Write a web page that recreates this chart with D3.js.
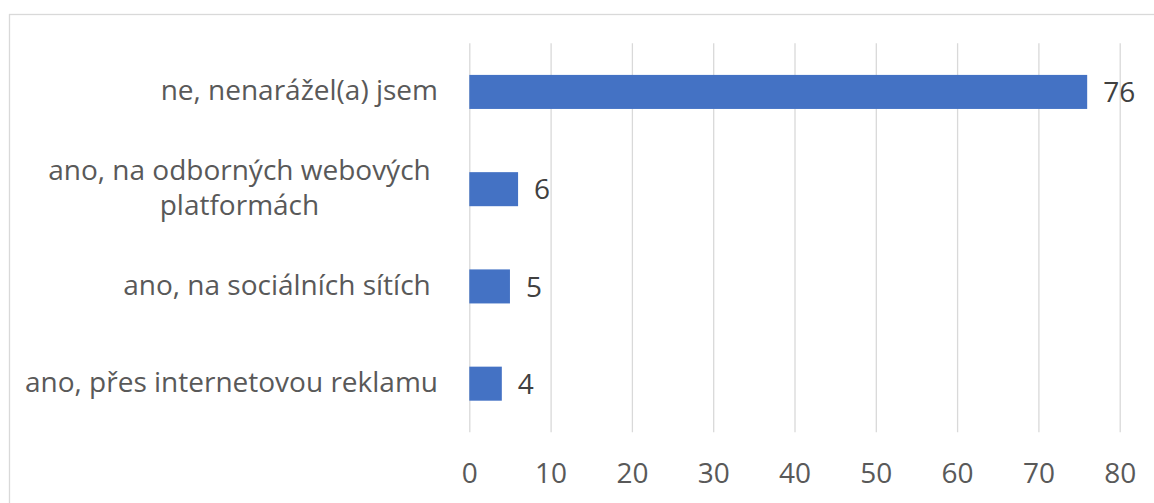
<!DOCTYPE html>
<html>
<head>
<meta charset="utf-8">
<script src="https://cdn.jsdelivr.net/npm/d3@7"></script>
<style>
  body { margin: 0; background: #fff; }
  text { font-family: "Open Sans", "Noto Sans", sans-serif; white-space: pre; }
</style>
</head>
<body>
<script>
// chart data (top to bottom)
var categories = ['ne, nenarážel(a) jsem', 'ano, na odborných webových platformách ', 'ano, na sociálních sítích ', 'ano, přes internetovou reklamu'];
var values = [76, 6, 5, 4];
var xTicks = [0, 10, 20, 30, 40, 50, 60, 70, 80];

// dimensions
var width = 1154,
    height = 503,
    plot = {left: 469.3, right: 1119.7, top: 43.3, bottom: 432.3},
    fontSize = 28,
    labelRight = 438,
    wrapWidth = 440;

var svg = d3.select('body').append('svg')
    .attr('width', width)
    .attr('height', height);

// chart border
svg.append('rect')
    .attr('x', 9.5).attr('y', 14.5)
    .attr('width', width).attr('height', height)
    .attr('fill', 'none')
    .attr('stroke', '#d9d9d9')
    .attr('stroke-width', 1.3);

// scales
var x = d3.scaleLinear().domain([0, 80]).range([plot.left, plot.right]);
var y = d3.scaleBand().domain(categories).range([plot.top, plot.bottom])
    .paddingInner(0.65).paddingOuter(0.325);

// x axis with gridlines
var xAxis = d3.axisBottom(x)
    .tickValues(xTicks)
    .tickSizeInner(-(plot.bottom - plot.top))
    .tickSizeOuter(0)
    .tickPadding(31);

var gx = svg.append('g')
    .attr('transform', 'translate(0,' + plot.bottom + ')')
    .call(xAxis);
gx.select('.domain').remove();
gx.selectAll('.tick line').attr('stroke', '#d9d9d9').attr('stroke-width', 1.3);
gx.selectAll('.tick text')
    .attr('fill', '#595959')
    .style('font-size', fontSize + 'px')
    .style('font-family', '"Open Sans", "Noto Sans", sans-serif');

// bars
svg.selectAll('.bar')
    .data(values)
  .enter().append('rect')
    .attr('class', 'bar')
    .attr('x', x(0))
    .attr('y', function(d, i) { return y(categories[i]); })
    .attr('width', function(d) { return x(d) - x(0); })
    .attr('height', y.bandwidth())
    .attr('fill', '#4472c4');

// data labels
svg.selectAll('.val')
    .data(values)
  .enter().append('text')
    .attr('class', 'val')
    .attr('x', function(d) { return x(d) + 16; })
    .attr('y', function(d, i) { return y(categories[i]) + y.bandwidth() / 2; })
    .attr('dy', '0.36em')
    .attr('fill', '#404040')
    .style('font-size', fontSize + 'px')
    .text(function(d) { return d; });

// category labels, wrapped and centred like Excel
var lineHeight = 35;
categories.forEach(function(c) {
    var t = svg.append('text')
        .attr('fill', '#595959')
        .attr('text-anchor', 'middle')
        .style('font-size', fontSize + 'px');

    // greedy word wrap
    var words = c.split(' '),
        lines = [],
        cur = '';
    var probe = svg.append('text').style('font-size', fontSize + 'px');
    words.forEach(function(w, k) {
        var test = cur === '' ? w : cur + ' ' + w;
        probe.text(test);
        if (cur !== '' && probe.node().getComputedTextLength() > wrapWidth) {
            lines.push(cur + ' ');
            cur = w;
        } else {
            cur = test;
        }
    });
    lines.push(cur);

    var maxW = 0;
    lines.forEach(function(l) {
        probe.text(l);
        maxW = Math.max(maxW, probe.node().getComputedTextLength());
    });
    probe.remove();

    var cx = labelRight - maxW / 2,
        cy = y(c) + y.bandwidth() / 2,
        y0 = cy - (lines.length - 1) * lineHeight / 2;

    lines.forEach(function(l, k) {
        t.append('tspan')
            .attr('x', cx)
            .attr('y', y0 + k * lineHeight)
            .attr('dy', '0.3em')
            .text(l);
    });
});
</script>
</body>
</html>
